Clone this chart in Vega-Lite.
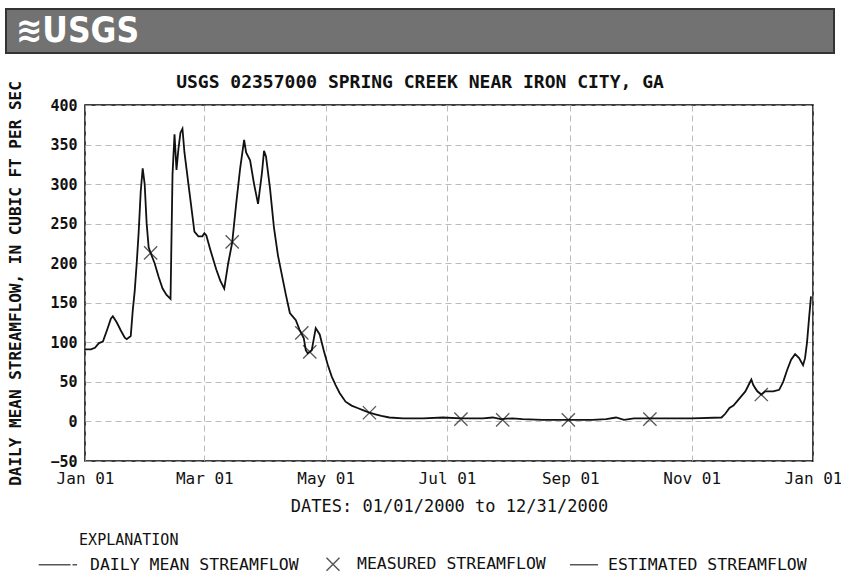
{
  "$schema": "https://vega.github.io/schema/vega-lite/v6.json",
  "padding": {"left": 5, "top": 8, "right": 0, "bottom": 0},
  "background": "white",
  "spacing": -14,
  "config": {
    "font": "DejaVu Sans Mono",
    "view": {"stroke": null}
  },
  "vconcat": [
    {
      "width": 828,
      "height": 44,
      "view": {"fill": "#727272", "stroke": "#333333", "strokeWidth": 2},
      "title": {"text": "USGS 02357000 SPRING CREEK NEAR IRON CITY, GA", "orient": "bottom", "font": "DejaVu Sans Mono", "fontSize": 18, "fontWeight": "bold", "offset": 21, "anchor": "middle", "color": "#111"},
      "data": {"values": [{"pos": 1.2, "label": "≋USGS"}]},
      "mark": {"type": "text", "align": "left", "baseline": "middle", "font": "DejaVu Sans Condensed, Liberation Sans", "fontWeight": "bold", "fontSize": 35, "color": "white"},
      "encoding": {
        "x": {"field": "pos", "type": "quantitative", "scale": {"domain": [0, 100]}, "axis": null},
        "text": {"field": "label"}
      }
    },
    {
      "spacing": 0,
      "hconcat": [
        {
          "width": 1,
          "height": 1,
          "data": {"values": [{"t": ""}]},
          "mark": {"type": "text"},
          "encoding": {"text": {"field": "t"}}
        },
        {
          "width": 728,
          "height": 356,
          "view": {"stroke": "black", "strokeWidth": 1.5},
          "encoding": {
            "x": {
              "field": "date", "type": "temporal",
              "scale": {"type": "utc", "domain": [{"year": 2000, "month": 1, "date": 1, "utc": true}, {"year": 2001, "month": 1, "date": 1, "utc": true}]},
              "axis": {
                "values": [
                  {"year": 2000, "month": 1, "date": 1, "utc": true},
                  {"year": 2000, "month": 3, "date": 1, "utc": true},
                  {"year": 2000, "month": 5, "date": 1, "utc": true},
                  {"year": 2000, "month": 7, "date": 1, "utc": true},
                  {"year": 2000, "month": 9, "date": 1, "utc": true},
                  {"year": 2000, "month": 11, "date": 1, "utc": true},
                  {"year": 2001, "month": 1, "date": 1, "utc": true}
                ],
                "labelExpr": "utcFormat(datum.value, '%b %d')",
                "labelFlush": false, "labelOverlap": false, "labelFont": "DejaVu Sans Mono", "labelFontSize": 16, "labelColor": "#111",
                "labelPadding": 9, "tickSize": 0, "domain": false,
                "grid": true, "gridColor": "#aaaaaa", "gridDash": [6, 4], "gridOpacity": 0.8,
                "titleFont": "DejaVu Sans Mono", "titleFontSize": 17, "titleFontWeight": "normal", "titleColor": "#111", "titlePadding": 12
              },
              "title": "DATES: 01/01/2000 to 12/31/2000"
            },
            "y": {
              "field": "flow", "type": "quantitative",
              "scale": {"domain": [-50, 400], "nice": false, "zero": false},
              "axis": {
                "values": [-50, 0, 50, 100, 150, 200, 250, 300, 350, 400],
                "labelOverlap": false, "labelFont": "DejaVu Sans Mono", "labelFontSize": 15, "labelFontWeight": "bold", "labelColor": "#111",
                "labelPadding": 8, "tickSize": 0, "domain": false,
                "grid": true, "gridColor": "#aaaaaa", "gridDash": [6, 4], "gridOpacity": 0.8,
                "titleFont": "DejaVu Sans Mono", "titleFontSize": 16, "titleFontWeight": "bold", "titleColor": "#111", "titlePadding": 26
              },
              "title": "DAILY MEAN STREAMFLOW, IN CUBIC FT PER SEC"
            }
          },
          "layer": [
            {
              "data": {"values": [
                {"date": "2000-01-01", "flow": 91}, {"date": "2000-01-04", "flow": 91}, {"date": "2000-01-06", "flow": 93},
                {"date": "2000-01-08", "flow": 99}, {"date": "2000-01-10", "flow": 101}, {"date": "2000-01-12", "flow": 115},
                {"date": "2000-01-14", "flow": 130}, {"date": "2000-01-15", "flow": 133}, {"date": "2000-01-17", "flow": 125},
                {"date": "2000-01-19", "flow": 115}, {"date": "2000-01-21", "flow": 106}, {"date": "2000-01-22", "flow": 104},
                {"date": "2000-01-24", "flow": 108}, {"date": "2000-01-25", "flow": 140}, {"date": "2000-01-26", "flow": 165},
                {"date": "2000-01-27", "flow": 200}, {"date": "2000-01-28", "flow": 240}, {"date": "2000-01-29", "flow": 290},
                {"date": "2000-01-30", "flow": 320}, {"date": "2000-01-31", "flow": 300}, {"date": "2000-02-01", "flow": 250},
                {"date": "2000-02-02", "flow": 220}, {"date": "2000-02-03", "flow": 213}, {"date": "2000-02-05", "flow": 200},
                {"date": "2000-02-07", "flow": 183}, {"date": "2000-02-09", "flow": 168}, {"date": "2000-02-11", "flow": 160},
                {"date": "2000-02-13", "flow": 155}, {"date": "2000-02-14", "flow": 312}, {"date": "2000-02-15", "flow": 363},
                {"date": "2000-02-16", "flow": 318}, {"date": "2000-02-17", "flow": 345}, {"date": "2000-02-18", "flow": 365},
                {"date": "2000-02-19", "flow": 370}, {"date": "2000-02-20", "flow": 340}, {"date": "2000-02-22", "flow": 300},
                {"date": "2000-02-23", "flow": 280}, {"date": "2000-02-25", "flow": 240}, {"date": "2000-02-27", "flow": 234},
                {"date": "2000-02-29", "flow": 234}, {"date": "2000-03-01", "flow": 238}, {"date": "2000-03-02", "flow": 235},
                {"date": "2000-03-04", "flow": 217}, {"date": "2000-03-07", "flow": 192}, {"date": "2000-03-09", "flow": 178},
                {"date": "2000-03-11", "flow": 168}, {"date": "2000-03-13", "flow": 200}, {"date": "2000-03-15", "flow": 226},
                {"date": "2000-03-17", "flow": 275}, {"date": "2000-03-19", "flow": 320}, {"date": "2000-03-21", "flow": 356},
                {"date": "2000-03-22", "flow": 340}, {"date": "2000-03-24", "flow": 330}, {"date": "2000-03-26", "flow": 300},
                {"date": "2000-03-28", "flow": 275}, {"date": "2000-03-30", "flow": 315}, {"date": "2000-03-31", "flow": 342},
                {"date": "2000-04-01", "flow": 335}, {"date": "2000-04-03", "flow": 295}, {"date": "2000-04-05", "flow": 245},
                {"date": "2000-04-07", "flow": 210}, {"date": "2000-04-09", "flow": 185}, {"date": "2000-04-11", "flow": 160},
                {"date": "2000-04-13", "flow": 137}, {"date": "2000-04-16", "flow": 128}, {"date": "2000-04-18", "flow": 115},
                {"date": "2000-04-20", "flow": 105}, {"date": "2000-04-21", "flow": 90}, {"date": "2000-04-22", "flow": 86},
                {"date": "2000-04-24", "flow": 90}, {"date": "2000-04-26", "flow": 118}, {"date": "2000-04-28", "flow": 110},
                {"date": "2000-04-30", "flow": 90}, {"date": "2000-05-02", "flow": 72}, {"date": "2000-05-04", "flow": 57},
                {"date": "2000-05-06", "flow": 46}, {"date": "2000-05-08", "flow": 36}, {"date": "2000-05-11", "flow": 25},
                {"date": "2000-05-14", "flow": 20}, {"date": "2000-05-17", "flow": 17}, {"date": "2000-05-20", "flow": 14},
                {"date": "2000-05-23", "flow": 11}, {"date": "2000-05-26", "flow": 9}, {"date": "2000-05-29", "flow": 7},
                {"date": "2000-06-02", "flow": 5}, {"date": "2000-06-09", "flow": 4}, {"date": "2000-06-19", "flow": 4},
                {"date": "2000-06-29", "flow": 5}, {"date": "2000-07-08", "flow": 4}, {"date": "2000-07-19", "flow": 4},
                {"date": "2000-07-24", "flow": 5}, {"date": "2000-07-28", "flow": 3}, {"date": "2000-08-03", "flow": 4},
                {"date": "2000-08-08", "flow": 3}, {"date": "2000-08-18", "flow": 2}, {"date": "2000-08-30", "flow": 2},
                {"date": "2000-09-12", "flow": 2}, {"date": "2000-09-19", "flow": 3}, {"date": "2000-09-24", "flow": 5},
                {"date": "2000-09-28", "flow": 2}, {"date": "2000-10-03", "flow": 4}, {"date": "2000-10-12", "flow": 4},
                {"date": "2000-10-22", "flow": 4}, {"date": "2000-11-01", "flow": 4}, {"date": "2000-11-16", "flow": 5},
                {"date": "2000-11-18", "flow": 10}, {"date": "2000-11-20", "flow": 17}, {"date": "2000-11-22", "flow": 20},
                {"date": "2000-11-24", "flow": 26}, {"date": "2000-11-26", "flow": 32}, {"date": "2000-11-28", "flow": 38},
                {"date": "2000-11-30", "flow": 48}, {"date": "2000-12-01", "flow": 53}, {"date": "2000-12-02", "flow": 46},
                {"date": "2000-12-04", "flow": 38}, {"date": "2000-12-06", "flow": 34}, {"date": "2000-12-08", "flow": 38},
                {"date": "2000-12-12", "flow": 38}, {"date": "2000-12-15", "flow": 40}, {"date": "2000-12-17", "flow": 50},
                {"date": "2000-12-19", "flow": 65}, {"date": "2000-12-21", "flow": 78}, {"date": "2000-12-23", "flow": 85},
                {"date": "2000-12-25", "flow": 80}, {"date": "2000-12-27", "flow": 71}, {"date": "2000-12-28", "flow": 80},
                {"date": "2000-12-29", "flow": 100}, {"date": "2000-12-30", "flow": 130}, {"date": "2000-12-31", "flow": 158}
              ]},
              "mark": {"type": "line", "color": "#111111", "strokeWidth": 1.8}
            },
            {
              "data": {"values": [
                {"date": "2000-02-03", "flow": 213, "kind": "MEASURED STREAMFLOW"},
                {"date": "2000-03-15", "flow": 227, "kind": "MEASURED STREAMFLOW"},
                {"date": "2000-04-19", "flow": 112, "kind": "MEASURED STREAMFLOW"},
                {"date": "2000-04-23", "flow": 88, "kind": "MEASURED STREAMFLOW"},
                {"date": "2000-05-23", "flow": 11, "kind": "MEASURED STREAMFLOW"},
                {"date": "2000-07-08", "flow": 3, "kind": "MEASURED STREAMFLOW"},
                {"date": "2000-07-29", "flow": 2, "kind": "MEASURED STREAMFLOW"},
                {"date": "2000-08-31", "flow": 2, "kind": "MEASURED STREAMFLOW"},
                {"date": "2000-10-11", "flow": 3, "kind": "MEASURED STREAMFLOW"},
                {"date": "2000-12-06", "flow": 34, "kind": "MEASURED STREAMFLOW"}
              ]},
              "mark": {"type": "point", "filled": false, "color": "#111111", "strokeWidth": 1.3, "size": 700},
              "encoding": {
                "shape": {
                  "field": "kind", "type": "nominal",
                  "scale": {
                    "domain": ["DAILY MEAN STREAMFLOW", "MEASURED STREAMFLOW", "ESTIMATED STREAMFLOW"],
                    "range": ["M-2.1,0L0.35,0M0.5,0L0.85,0", "M-0.5,-0.5L0.5,0.5M-0.5,0.5L0.5,-0.5", "M-1.08,0L1.08,0"]
                  },
                  "legend": {
                    "orient": "none", "legendX": 46, "legendY": 524, "direction": "horizontal",
                    "title": "\u200b\u00a0\u00a0\u00a0EXPLANATION",
                    "titleFont": "DejaVu Sans Mono", "titleFontSize": 15, "titleFontWeight": "normal", "titleColor": "#111", "titlePadding": 2,
                    "labelFont": "DejaVu Sans Mono", "labelFontSize": 16.5, "labelColor": "#111", "labelOffset": 10, "labelLimit": 400,
                    "symbolSize": 676, "symbolStrokeWidth": 1.5, "symbolStrokeColor": "#111", "columnPadding": 20
                  }
                }
              }
            }
          ]
        }
      ]
    }
  ]
}
